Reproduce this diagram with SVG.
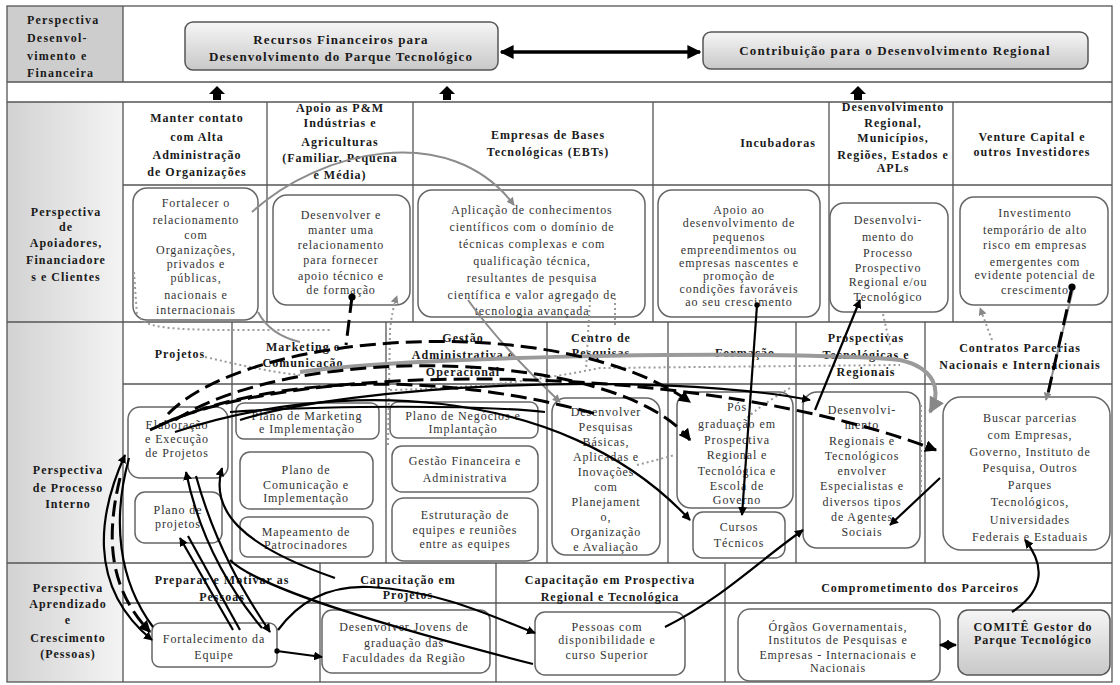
<svg xmlns="http://www.w3.org/2000/svg" width="1120" height="685" viewBox="0 0 1120 685">
<defs>
<linearGradient id="gLeft" x1="0" y1="0" x2="1" y2="0"><stop offset="0" stop-color="#d2d2d2"/><stop offset="1" stop-color="#f4f4f4"/></linearGradient>
<linearGradient id="gBox" x1="0" y1="0" x2="0" y2="1"><stop offset="0" stop-color="#f6f6f6"/><stop offset="1" stop-color="#c8c8c8"/></linearGradient>
<marker id="ah" viewBox="0 0 10 10" refX="9" refY="5" markerWidth="4" markerHeight="4" orient="auto-start-reverse"><path d="M0,0 L10,5 L0,10 z" fill="#000"/></marker>
<marker id="ahg" viewBox="0 0 10 10" refX="9" refY="5" markerWidth="4" markerHeight="4" orient="auto-start-reverse"><path d="M0,0 L10,5 L0,10 z" fill="#888"/></marker>
<marker id="dot" viewBox="0 0 10 10" refX="5" refY="5" markerWidth="3" markerHeight="3"><circle cx="5" cy="5" r="4" fill="#000"/></marker>
</defs>
<style>
.grid{stroke:#555;stroke-width:1.3;fill:none}
.h{font-family:"Liberation Serif",serif;font-weight:bold;font-size:12px;letter-spacing:1px;fill:#1a1a1a;text-anchor:middle}
.hb{font-size:13px;letter-spacing:1.1px}
.hl{font-family:"Liberation Serif",serif;font-weight:bold;font-size:12px;letter-spacing:1.2px;fill:#1a1a1a}
.t{font-family:"Liberation Serif",serif;font-size:12px;letter-spacing:0.9px;fill:#333;text-anchor:middle}
.box{fill:#fff;stroke:#666;stroke-width:1.5}
.gbox{fill:url(#gBox);stroke:#555;stroke-width:1.5}
.c{fill:none;stroke:#000;stroke-width:2.2}
.cd{fill:none;stroke:#000;stroke-width:3;stroke-dasharray:16 7}
.gs{fill:none;stroke:#8c8c8c;stroke-width:2}
.gt{fill:none;stroke:#9a9a9a;stroke-width:4}
.gd{fill:none;stroke:#9a9a9a;stroke-width:2;stroke-dasharray:2 3}
.up{fill:#000}
</style>
<rect x="0" y="0" width="1120" height="685" fill="#fff"/>
<g id="grid">
<rect x="7" y="6" width="116" height="76" fill="#cdcdcd"/>
<rect x="7" y="102" width="116" height="580" fill="url(#gLeft)"/>
<rect x="7" y="6" width="1105" height="676" class="grid"/>
<path class="grid" d="M7,82H1112M7,102H1112M123,185H1112M7,322H1112M123,384H1112M7,563H1112M123,603H1112"/>
<path class="grid" d="M123,6V82M123,102V682M267,102V322M413,102V322M653,102V322M829,102V322M953,102V322M232,322V563M386,322V563M547,322V563M668,322V563M796,322V563M925,322V563M320,563V682M496,563V682M725,563V682"/>
</g>
<g id="labels">
<text class="hl" x="27"><tspan x="27" y="24">Perspectiva</tspan><tspan x="27" y="42">Desenvol-</tspan><tspan x="27" y="60">vimento e</tspan><tspan x="27" y="77">Financeira</tspan></text>
<text class="h"><tspan x="66" y="216">Perspectiva</tspan><tspan x="66" y="231">de</tspan><tspan x="66" y="247">Apoiadores,</tspan><tspan x="66" y="264">Financiadore</tspan><tspan x="66" y="281">s e Clientes</tspan></text>
<text class="h"><tspan x="68" y="474">Perspectiva</tspan><tspan x="68" y="492">de Processo</tspan><tspan x="68" y="508">Interno</tspan></text>
<text class="h"><tspan x="68" y="592">Perspectiva</tspan><tspan x="68" y="608">Aprendizado</tspan><tspan x="68" y="624">e</tspan><tspan x="68" y="642">Crescimento</tspan><tspan x="68" y="658">(Pessoas)</tspan></text>
</g>
<g id="up-arrows">
<polygon class="up" points="217,86 225,94 221,94 221,100 213,100 213,94 209,94"/>
<polygon class="up" points="447,86 455,94 451,94 451,100 443,100 443,94 439,94"/>
<polygon class="up" points="858,86 866,94 862,94 862,100 854,100 854,94 850,94"/>
</g>
<g id="n-recursos"><rect class="gbox" x="185" y="22" width="313" height="48" rx="8"/><text class="h hb"><tspan x="341" y="44">Recursos Financeiros para</tspan><tspan x="341" y="61">Desenvolvimento do Parque Tecnológico</tspan></text></g>
<g id="n-contrib"><rect class="gbox" x="703" y="32" width="385" height="37" rx="8"/><text class="h hb" x="895" y="55">Contribuição para o Desenvolvimento Regional</text></g>
<g id="headers-r2">
<text class="h"><tspan x="197" y="122">Manter contato</tspan><tspan x="197" y="141">com Alta</tspan><tspan x="197" y="159">Administração</tspan><tspan x="197" y="176">de Organizações</tspan></text>
<text class="h"><tspan x="340" y="112">Apoio as P&amp;M</tspan><tspan x="340" y="127">Indústrias e</tspan><tspan x="340" y="146">Agriculturas</tspan><tspan x="340" y="162">(Familiar, Pequena</tspan><tspan x="340" y="179">e Média)</tspan></text>
<text class="h"><tspan x="548" y="139">Empresas de Bases</tspan><tspan x="548" y="156">Tecnológicas (EBTs)</tspan></text>
<text class="h" x="778" y="147">Incubadoras</text>
<text class="h"><tspan x="893" y="111">Desenvolvimento</tspan><tspan x="893" y="127">Regional,</tspan><tspan x="893" y="142">Municípios,</tspan><tspan x="893" y="159">Regiões, Estados e</tspan><tspan x="893" y="172">APLs</tspan></text>
<text class="h"><tspan x="1032" y="141">Venture Capital e</tspan><tspan x="1032" y="156">outros Investidores</tspan></text>
</g>
<g id="n-fortalecer"><rect class="box" x="133" y="188" width="125" height="132" rx="14"/><text class="t"><tspan x="196" y="207">Fortalecer o</tspan><tspan x="196" y="224">relacionamento</tspan><tspan x="196" y="239">com</tspan><tspan x="196" y="254">Organizações,</tspan><tspan x="196" y="268">privados e</tspan><tspan x="196" y="282">públicas,</tspan><tspan x="196" y="299">nacionais e</tspan><tspan x="196" y="314">internacionais</tspan></text></g>
<g id="n-desenvolver"><rect class="box" x="273" y="195" width="137" height="110" rx="14"/><text class="t"><tspan x="341" y="219">Desenvolver e</tspan><tspan x="341" y="234">manter uma</tspan><tspan x="341" y="249">relacionamento</tspan><tspan x="341" y="264">para fornecer</tspan><tspan x="341" y="280">apoio técnico e</tspan><tspan x="341" y="294">de formação</tspan></text></g>
<g id="n-aplicacao"><rect class="box" x="418" y="190" width="227" height="127" rx="14"/><text class="t"><tspan x="532" y="214">Aplicação  de conhecimentos</tspan><tspan x="532" y="231">científicos com o domínio de</tspan><tspan x="532" y="248">técnicas complexas e com</tspan><tspan x="532" y="265">qualificação técnica,</tspan><tspan x="532" y="282">resultantes de pesquisa</tspan><tspan x="532" y="299">científica e valor agregado de</tspan><tspan x="532" y="315">tecnologia avançada</tspan></text></g>
<g id="n-apoio"><rect class="box" x="658" y="190" width="162" height="127" rx="14"/><text class="t"><tspan x="739" y="214">Apoio ao</tspan><tspan x="739" y="227">desenvolvimento de</tspan><tspan x="739" y="241">pequenos</tspan><tspan x="739" y="254">empreendimentos ou</tspan><tspan x="739" y="267">empresas nascentes e</tspan><tspan x="739" y="280">promoção de</tspan><tspan x="739" y="293">condições favoráveis</tspan><tspan x="739" y="306">ao seu crescimento</tspan></text></g>
<g id="n-processo"><rect class="box" x="830" y="203" width="118" height="109" rx="14"/><text class="t"><tspan x="888" y="224">Desenvolvi-</tspan><tspan x="888" y="241">mento do</tspan><tspan x="888" y="257">Processo</tspan><tspan x="888" y="272">Prospectivo</tspan><tspan x="888" y="286">Regional e/ou</tspan><tspan x="888" y="301">Tecnológico</tspan></text></g>
<g id="n-investimento"><rect class="box" x="960" y="197" width="148" height="108" rx="14"/><text class="t"><tspan x="1035" y="217">Investimento</tspan><tspan x="1035" y="234">temporário de alto</tspan><tspan x="1035" y="249">risco em empresas</tspan><tspan x="1035" y="266">emergentes com</tspan><tspan x="1035" y="279">evidente potencial de</tspan><tspan x="1035" y="294">crescimento</tspan></text></g>
<g id="headers-r3">
<text class="h" x="180" y="358">Projetos</text>
<text class="h"><tspan x="303" y="351">Marketing e</tspan><tspan x="303" y="367">Comunicação</tspan></text>
<text class="h"><tspan x="463" y="342">Gestão</tspan><tspan x="463" y="359">Administrativa e</tspan><tspan x="463" y="376">Operacional</tspan></text>
<text class="h"><tspan x="601" y="342">Centro de</tspan><tspan x="601" y="357">Pesquisas</tspan></text>
<text class="h" x="745" y="357">Formação</text>
<text class="h"><tspan x="866" y="342">Prospectivas</tspan><tspan x="866" y="359">Tecnológicas e</tspan><tspan x="866" y="376">Regionais</tspan></text>
<text class="h"><tspan x="1020" y="352">Contratos Parcerias</tspan><tspan x="1020" y="369">Nacionais e Internacionais</tspan></text>
</g>
<g id="n-elaboracao"><rect class="box" x="128" y="407" width="100" height="71" rx="12"/><text class="t"><tspan x="177" y="429">Elaboração</tspan><tspan x="177" y="443">e Execução</tspan><tspan x="177" y="457">de Projetos</tspan></text></g>
<g id="n-planoproj"><rect class="box" x="135" y="492" width="87" height="51" rx="10"/><text class="t"><tspan x="178" y="514">Plano de</tspan><tspan x="178" y="528">projetos</tspan></text></g>
<g id="n-marketing"><rect class="box" x="236" y="403" width="143" height="36" rx="8"/><text class="t"><tspan x="307" y="420">Plano de Marketing</tspan><tspan x="307" y="433">e Implementação</tspan></text></g>
<g id="n-comunicacao"><rect class="box" x="240" y="452" width="133" height="57" rx="10"/><text class="t"><tspan x="306" y="474">Plano de</tspan><tspan x="306" y="489">Comunicação e</tspan><tspan x="306" y="502">Implementação</tspan></text></g>
<g id="n-mapeamento"><rect class="box" x="240" y="517" width="133" height="40" rx="8"/><text class="t"><tspan x="306" y="536">Mapeamento de</tspan><tspan x="306" y="549">Patrocinadores</tspan></text></g>
<g id="n-negocios"><rect class="box" x="390" y="402" width="148" height="36" rx="8"/><text class="t"><tspan x="463" y="420">Plano de Negócios e</tspan><tspan x="463" y="433">Implantação</tspan></text></g>
<g id="n-gestaofin"><rect class="box" x="392" y="446" width="146" height="46" rx="10"/><text class="t"><tspan x="465" y="465">Gestão Financeira e</tspan><tspan x="465" y="482">Administrativa</tspan></text></g>
<g id="n-estruturacao"><rect class="box" x="392" y="498" width="146" height="63" rx="12"/><text class="t"><tspan x="465" y="519">Estruturação de</tspan><tspan x="465" y="534">equipes e reuniões</tspan><tspan x="465" y="548">entre as equipes</tspan></text></g>
<g id="n-pesquisas"><rect class="box" x="552" y="398" width="108" height="157" rx="14"/><text class="t"><tspan x="606" y="416">Desenvolver</tspan><tspan x="606" y="431">Pesquisas</tspan><tspan x="606" y="446">Básicas,</tspan><tspan x="606" y="461">Aplicadas e</tspan><tspan x="606" y="476">Inovações</tspan><tspan x="606" y="491">com</tspan><tspan x="606" y="506">Planejament</tspan><tspan x="606" y="521">o,</tspan><tspan x="606" y="536">Organização</tspan><tspan x="606" y="551">e Avaliação</tspan></text></g>
<g id="n-posgrad"><rect class="box" x="677" y="392" width="116" height="116" rx="14"/><text class="t"><tspan x="737" y="411">Pós</tspan><tspan x="737" y="428">graduação em</tspan><tspan x="737" y="444">Prospectiva</tspan><tspan x="737" y="459">Regional e</tspan><tspan x="737" y="475">Tecnológica e</tspan><tspan x="737" y="490">Escola de</tspan><tspan x="737" y="504">Governo</tspan></text></g>
<g id="n-cursos"><rect class="box" x="693" y="512" width="92" height="46" rx="10"/><text class="t"><tspan x="739" y="531">Cursos</tspan><tspan x="739" y="547">Técnicos</tspan></text></g>
<g id="n-desreg"><rect class="box" x="803" y="392" width="117" height="156" rx="14"/><text class="t"><tspan x="862" y="414">Desenvolvi-</tspan><tspan x="862" y="429">mento</tspan><tspan x="862" y="445">Regionais e</tspan><tspan x="862" y="460">Tecnológicos</tspan><tspan x="862" y="475">envolver</tspan><tspan x="862" y="490">Especialistas e</tspan><tspan x="862" y="506">diversos tipos</tspan><tspan x="862" y="521">de Agentes</tspan><tspan x="862" y="536">Sociais</tspan></text></g>
<g id="n-buscar"><rect class="box" x="943" y="397" width="167" height="153" rx="18"/><text class="t"><tspan x="1030" y="422">Buscar parcerias</tspan><tspan x="1030" y="439">com Empresas,</tspan><tspan x="1030" y="456">Governo, Instituto de</tspan><tspan x="1030" y="472">Pesquisa, Outros</tspan><tspan x="1030" y="489">Parques</tspan><tspan x="1030" y="506">Tecnológicos,</tspan><tspan x="1030" y="524">Universidades</tspan><tspan x="1030" y="541">Federais e Estaduais</tspan></text></g>
<g id="headers-r4">
<text class="h"><tspan x="222" y="584">Preparar e Motivar as</tspan><tspan x="222" y="601">Pessoas</tspan></text>
<text class="h"><tspan x="408" y="584">Capacitação em</tspan><tspan x="408" y="599">Projetos</tspan></text>
<text class="h"><tspan x="610" y="584">Capacitação em Prospectiva</tspan><tspan x="610" y="601">Regional e Tecnológica</tspan></text>
<text class="h" x="920" y="592">Comprometimento dos Parceiros</text>
</g>
<g id="n-fortalecimento"><rect class="box" x="152" y="623" width="125" height="44" rx="8"/><text class="t"><tspan x="214" y="643">Fortalecimento da</tspan><tspan x="214" y="659">Equipe</tspan></text></g>
<g id="n-jovens"><rect class="box" x="322" y="610" width="168" height="63" rx="10"/><text class="t"><tspan x="404" y="631">Desenvolver Jovens de</tspan><tspan x="404" y="647">graduação das</tspan><tspan x="404" y="662">Faculdades da Região</tspan></text></g>
<g id="n-pessoas"><rect class="box" x="535" y="612" width="150" height="63" rx="10"/><text class="t"><tspan x="607" y="631">Pessoas com</tspan><tspan x="607" y="644">disponibilidade e</tspan><tspan x="607" y="659">curso Superior</tspan></text></g>
<g id="n-orgaos"><rect class="box" x="738" y="609" width="202" height="72" rx="12"/><text class="t"><tspan x="838" y="631">Órgãos Governamentais,</tspan><tspan x="838" y="644">Institutos de Pesquisas e</tspan><tspan x="838" y="659">Empresas - Internacionais e</tspan><tspan x="838" y="672">Nacionais</tspan></text></g>
<g id="n-comite"><rect class="gbox" x="958" y="610" width="152" height="65" rx="10"/><text class="h"><tspan x="1033" y="631">COMITÊ Gestor do</tspan><tspan x="1033" y="644">Parque Tecnológico</tspan></text></g>
<g id="connectors">
<path d="M501,52 H700" fill="none" stroke="#000" stroke-width="3.5" marker-start="url(#ah)" marker-end="url(#ah)"/>
<path d="M940,645 H956" fill="none" stroke="#000" stroke-width="2.5" marker-start="url(#ah)" marker-end="url(#ah)"/>
<path class="gs" d="M252,212 C320,150 450,120 514,205" marker-end="url(#ahg)"/>
<path class="gs" d="M258,312 Q270,335 300,342"/>
<path class="gs" d="M468,300 Q500,345 560,402" marker-end="url(#ahg)"/>
<path class="gt" d="M300,372 C420,355 800,350 900,360 C935,368 942,390 930,412" marker-end="url(#ahg)"/>
<path class="gs" d="M1074,285 L1046,400" marker-end="url(#ahg)"/>
<path class="gd" d="M140,318 C150,332 200,330 330,330"/>
<path class="gd" d="M134,272 L137,316"/>
<path class="gd" d="M205,357 C240,365 270,372 300,375"/>
<path class="gd" d="M388,445 L390,330 Q392,310 397,296" marker-end="url(#ahg)"/>
<path class="gd" d="M390,390 C480,388 540,380 600,368 L900,365"/>
<path class="gd" d="M590,300 L586,370"/>
<path class="gd" d="M615,298 L615,325"/>
<path class="gd" d="M790,388 C770,400 755,410 747,418"/>
<path class="gd" d="M637,465 L675,455"/>
<path class="gd" d="M883,314 L890,345"/>
<path class="gd" d="M992,340 L980,308" marker-end="url(#ahg)"/>
<path class="gd" d="M921,405 L921,492"/>
<path class="cd" d="M352,297 L346,345" marker-start="url(#dot)"/>
<path class="cd" d="M1072,287 L1047,398" marker-start="url(#dot)"/>
<path class="cd" d="M168,414 C250,330 560,310 690,402" marker-end="url(#ah)"/>
<path class="cd" d="M175,420 C300,340 620,350 690,440" marker-end="url(#ah)"/>
<path class="cd" d="M160,425 C300,360 700,360 936,450" marker-end="url(#ah)"/>
<path class="cd" d="M150,430 C250,380 420,365 600,415"/>
<path class="c" d="M175,432 C330,380 560,380 690,520" marker-end="url(#ah)"/>
<path class="c" d="M240,420 C350,385 650,370 810,400" marker-end="url(#ah)"/>
<path class="c" d="M230,412 C330,405 480,405 545,412"/>
<path class="c" d="M757,305 L742,515" marker-start="url(#dot)" marker-end="url(#ah)"/>
<path class="c" d="M815,410 L860,300" marker-end="url(#ah)"/>
<path class="c" d="M940,478 L890,525" marker-end="url(#ah)"/>
<path class="c" d="M125,455 C100,510 85,585 152,640" marker-start="url(#ah)" marker-end="url(#ah)"/>
<path class="cd" d="M120,478 C105,540 110,590 150,632" marker-end="url(#ah)"/>
<path class="c" d="M129,458 C112,520 118,580 153,627"/>
<path class="c" d="M180,538 L233,630" marker-start="url(#ah)"/>
<path class="c" d="M188,536 L240,630"/>
<path class="c" d="M186,472 C200,540 230,590 262,628" marker-start="url(#ah)"/>
<path class="c" d="M196,476 C215,545 245,595 270,632" marker-end="url(#ah)"/>
<path class="c" d="M222,468 C210,510 240,545 335,578" marker-start="url(#ah)"/>
<path class="c" d="M230,560 C260,590 400,630 533,664"/>
<path class="c" d="M278,630 C300,600 330,585 370,587 C440,590 500,620 535,633" marker-end="url(#ah)"/>
<path class="c" d="M277,651 L322,657" marker-start="url(#dot)" marker-end="url(#ah)"/>
<path class="c" d="M665,627 C720,600 760,560 803,530" marker-end="url(#ah)"/>
<path class="c" d="M1012,612 C1045,590 1045,565 1025,540" marker-end="url(#ah)"/>
</g>
</svg>
